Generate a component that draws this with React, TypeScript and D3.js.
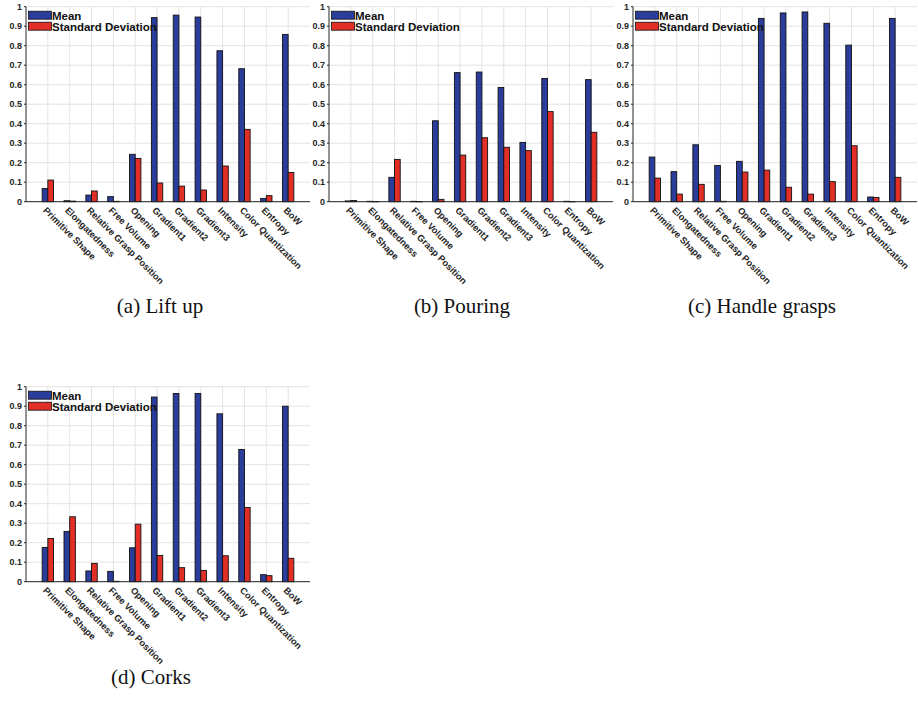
import React from "react";
import * as d3 from "d3";

const categories = [
  "Primitive Shape",
  "Elongatedness",
  "Relative Grasp Position",
  "Free Volume",
  "Opening",
  "Gradient1",
  "Gradient2",
  "Gradient3",
  "Intensity",
  "Color Quantization",
  "Entropy",
  "BoW",
];

const seriesNames = ["Mean", "Standard Deviation"];
const yTicks = [0, 0.1, 0.2, 0.3, 0.4, 0.5, 0.6, 0.7, 0.8, 0.9, 1];

const liftUpMean = [0.068, 0.005, 0.034, 0.026, 0.243, 0.944, 0.957, 0.947, 0.774, 0.682, 0.017, 0.858];
const liftUpStd = [0.111, 0.003, 0.055, 0.002, 0.222, 0.096, 0.08, 0.06, 0.183, 0.371, 0.031, 0.15];

const pouringMean = [0.004, 0.002, 0.125, 0.002, 0.415, 0.662, 0.665, 0.586, 0.304, 0.632, 0.002, 0.626];
const pouringStd = [0.006, 0.001, 0.217, 0.001, 0.012, 0.239, 0.328, 0.279, 0.262, 0.462, 0.001, 0.356];

const handleMean = [0.229, 0.154, 0.292, 0.186, 0.207, 0.94, 0.968, 0.973, 0.915, 0.803, 0.024, 0.94];
const handleStd = [0.121, 0.039, 0.089, 0.002, 0.152, 0.162, 0.074, 0.039, 0.103, 0.287, 0.022, 0.125];

const corksMean = [0.176, 0.258, 0.055, 0.053, 0.174, 0.947, 0.965, 0.965, 0.861, 0.678, 0.036, 0.9];
const corksStd = [0.222, 0.333, 0.094, 0.002, 0.295, 0.135, 0.072, 0.058, 0.133, 0.381, 0.031, 0.12];

const captions = ["(a) Lift up", "(b) Pouring", "(c) Handle grasps", "(d) Corks"];

const BLUE = "#2b3d9b";
const RED = "#e12f28";
const AXIS = "#262626";
const GRID = "#e3e3e3";
const SANS = "'Liberation Sans', Arial, Helvetica, sans-serif";

type PanelProps = {
  left: number;
  top: number;
  mean: number[];
  std: number[];
  caption: string;
  capX: number;
  capY: number;
};

function Panel({ left, top, mean, std, caption, capX, capY }: PanelProps) {
  const width = 284;
  const height = 195;
  const x = d3.scaleLinear().domain([0, categories.length + 1]).range([left, left + width]);
  const y = d3.scaleLinear().domain([0, 1]).range([top + height, top]);
  const bw = x(0.26) - x(0);
  const off = 0.13;
  const series = [
    { vals: mean, color: BLUE, dx: -off },
    { vals: std, color: RED, dx: off },
  ];
  return (
    <g>
      {yTicks.map((t) => (
        <line key={"gy" + t} x1={x(0)} x2={x(categories.length + 1)} y1={y(t)} y2={y(t)} stroke={GRID} strokeWidth={1} />
      ))}
      {categories.map((c, i) => (
        <line key={"gx" + c} x1={x(i + 1)} x2={x(i + 1)} y1={y(0)} y2={y(1)} stroke={GRID} strokeWidth={1} />
      ))}
      {series.map((s, si) =>
        s.vals.map((v, i) => (
          <rect
            key={si + "-" + i}
            x={x(i + 1 + s.dx) - bw / 2}
            y={y(v)}
            width={bw}
            height={Math.max(0.3, y(0) - y(v))}
            fill={s.color}
            stroke="#111"
            strokeWidth={0.9}
          />
        ))
      )}
      <line x1={x(0)} x2={x(categories.length + 1)} y1={y(0)} y2={y(0)} stroke={AXIS} strokeWidth={1} />
      <line x1={x(0)} x2={x(0)} y1={y(0)} y2={y(1)} stroke={AXIS} strokeWidth={1} />
      {yTicks.map((t) => (
        <g key={"yt" + t}>
          <line x1={x(0) - 2} x2={x(0)} y1={y(t)} y2={y(t)} stroke={AXIS} strokeWidth={1} />
          <text
            x={x(0) - 4}
            y={y(t)}
            dy="0.35em"
            textAnchor="end"
            fontFamily={SANS}
            fontWeight="bold"
            fontSize={9}
            fill={AXIS}
          >
            {d3.format("~g")(t)}
          </text>
        </g>
      ))}
      {categories.map((c, i) => (
        <text
          key={"xl" + c}
          transform={`translate(${x(i + 1)},${y(0) + 4}) rotate(45)`}
          dy="0.8em"
          fontFamily={SANS}
          fontWeight="bold"
          fontSize={9.3}
          fill={AXIS}
        >
          {c}
        </text>
      ))}
      {seriesNames.map((n, k) => (
        <g key={"lg" + n}>
          <rect
            x={x(0) + 2.5}
            y={top + 4.5 + k * 11}
            width={23}
            height={8}
            fill={k === 0 ? BLUE : RED}
            stroke="#111"
            strokeWidth={0.8}
          />
          <text x={x(0) + 26} y={top + 12.8 + k * 11} fontFamily={SANS} fontWeight="bold" fontSize={11.5} fill="#111">
            {n}
          </text>
        </g>
      ))}
      <text x={capX} y={capY} textAnchor="middle" fontFamily="'Liberation Serif', 'Times New Roman', serif" fontSize={21} fill="#111">
        {caption}
      </text>
    </g>
  );
}

export default function App() {
  const panels = [
    { left: 26, top: 6.7, mean: liftUpMean, std: liftUpStd, capX: 160, capY: 313 },
    { left: 329, top: 6.7, mean: pouringMean, std: pouringStd, capX: 462, capY: 313 },
    { left: 633, top: 6.7, mean: handleMean, std: handleStd, capX: 762, capY: 313 },
    { left: 26, top: 386.7, mean: corksMean, std: corksStd, capX: 151, capY: 684 },
  ];
  return (
    <svg
      width={918}
      height={702}
      viewBox="0 0 918 702"
      style={{ position: "absolute", left: 0, top: 0, background: "#fff" }}
    >
      <rect x={0} y={0} width={918} height={702} fill="#fff" />
      {panels.map((p, i) => (
        <Panel key={i} {...p} caption={captions[i]} />
      ))}
    </svg>
  );
}
